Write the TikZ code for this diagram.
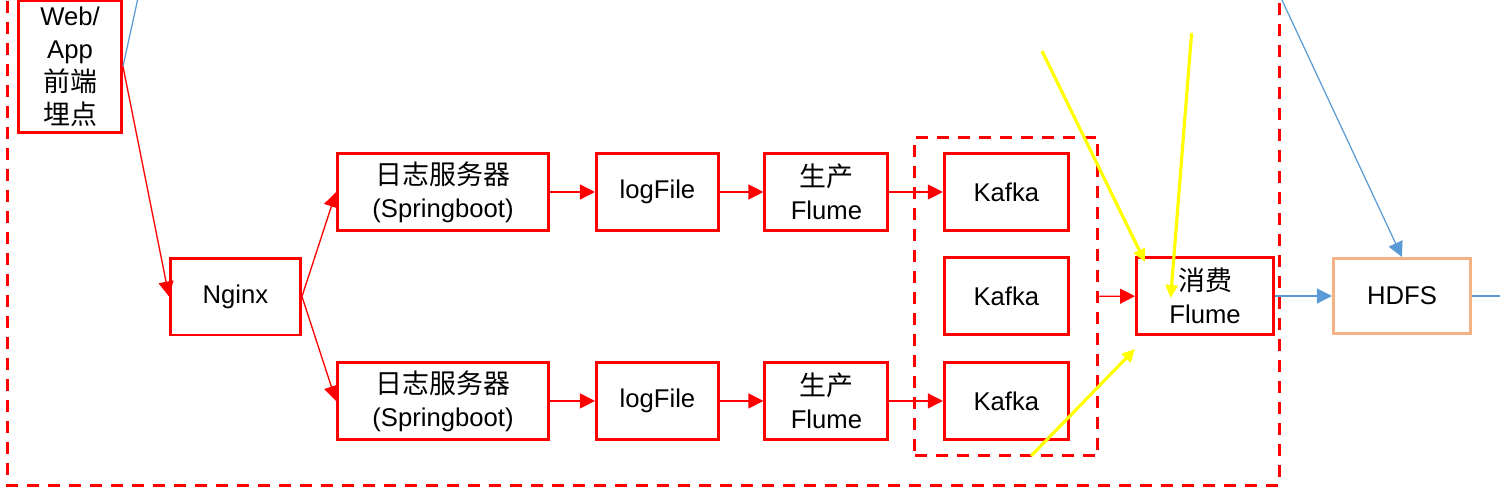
\documentclass[tikz,border=0pt]{standalone}
\usepackage{fontspec}
\setmainfont{Liberation Sans}
\newfontfamily\cjk[Scale=1.05]{Noto Sans CJK SC}
\usetikzlibrary{arrows.meta, positioning, fit}

\definecolor{boxred}{HTML}{FF0000}
\definecolor{lineblue}{HTML}{5B9BD5}
\definecolor{hdfsorange}{HTML}{F4B183}
\definecolor{hintyellow}{HTML}{FFFF00}

\begin{document}
\begin{tikzpicture}[
        x=0.02cm, y=-0.02cm,
        font=\fontsize{14.6}{18.8}\selectfont,
        box/.style={draw=boxred, rectangle, line width=1.7pt, minimum height=1.54cm, align=center, text=black},
        hdfsbox/.style={box, draw=hdfsorange},
        frame/.style={draw=boxred, line width=1.7pt, dash pattern=on 0.24cm off 0.18cm},
        arrow/.style={-{Triangle[length=0.3cm, width=0.3cm]}, boxred, line width=0.75pt},
        bluearrow/.style={-{Triangle[length=0.3cm, width=0.3cm]}, lineblue, line width=0.7pt},
        blueline/.style={lineblue, line width=0.7pt},
        hint/.style={-{Triangle[length=0.26cm, width=0.24cm]}, hintyellow, line width=1.8pt}
    ]
        \useasboundingbox (0,0) rectangle (1500,487);
        \clip (0,0) rectangle (1500,487);

        % outer frame, its top edge lies above the page
        \draw[frame] (7.5,-20) rectangle (1279,485);

        \node[box, minimum width=2.06cm, minimum height=2.6cm] (web) at (70,66.5) {Web/\\App\\{\cjk 前端}\\{\cjk 埋点}};
        \node[box, minimum width=2.6cm] (nginx) at (235.5,296.5) {Nginx};

        % upper row
        \node[box, minimum width=4.22cm] (srv1) at (443,192) {{\cjk 日志服务器}\\(Springboot)};
        \node[box, minimum width=2.44cm, right=0.9cm of srv1] (log1) {logFile};
        \node[box, minimum width=2.46cm, right=0.87cm of log1] (pf1) {{\cjk 生产}\\Flume};
        \node[box, minimum width=2.48cm, right=1.07cm of pf1] (kafka1) {Kafka};

        % lower row
        \node[box, minimum width=4.22cm, below=2.58cm of srv1] (srv2) {{\cjk 日志服务器}\\(Springboot)};
        \node[box, minimum width=2.44cm, right=0.9cm of srv2] (log2) {logFile};
        \node[box, minimum width=2.46cm, right=0.87cm of log2] (pf2) {{\cjk 生产}\\Flume};
        \node[box, minimum width=2.48cm, right=1.07cm of pf2] (kafka3) {Kafka};

        \node[box, minimum width=2.48cm, below=0.48cm of kafka1] (kafka2) {Kafka};
        \node[frame, fit=(kafka1)(kafka3), inner xsep=0.56cm, inner ysep=0.3cm] (kgroup) {};

        \node[box, minimum width=2.74cm] (cf) at (1205,296) {{\cjk 消费}\\Flume};
        \node[hdfsbox, minimum width=2.74cm, minimum height=1.5cm, right=1.14cm of cf] (hdfs) {HDFS};

        \coordinate (webin) at (138,-2);
        \coordinate (hdfsin) at (1281,-2);
        \coordinate (hdfsout) at (1505,296);

        \draw[blueline] (webin) -- (web.east);
        \draw[arrow] (web.east) -- (nginx.west);
        \draw[arrow] (nginx.east) -- (srv1.west);
        \draw[arrow] (nginx.east) -- (srv2.west);
        \draw[arrow] (srv1) -- (log1);
        \draw[arrow] (log1) -- (pf1);
        \draw[arrow] (pf1) -- (kafka1);
        \draw[arrow] (srv2) -- (log2);
        \draw[arrow] (log2) -- (pf2);
        \draw[arrow] (pf2) -- (kafka3);
        \draw[arrow] (kgroup) -- (cf);
        \draw[bluearrow] (cf) -- (hdfs);
        \draw[blueline] (hdfs.east) -- (hdfsout);
        \draw[bluearrow] (hdfsin) -- (hdfs.north);

        % yellow hints
        \coordinate (ya) at (1042,51);
        \coordinate (yatip) at (1145,262);
        \coordinate (yb) at (1191.6,33);
        \coordinate (ybtip) at (1170.6,298);
        \coordinate (yc) at (1031,456);
        \coordinate (yctip) at (1135,349);
        \draw[hint] (ya) -- (yatip);
        \draw[hint] (yb) -- (ybtip);
        \draw[hint] (yc) -- (yctip);
    \end{tikzpicture}
\end{document}
